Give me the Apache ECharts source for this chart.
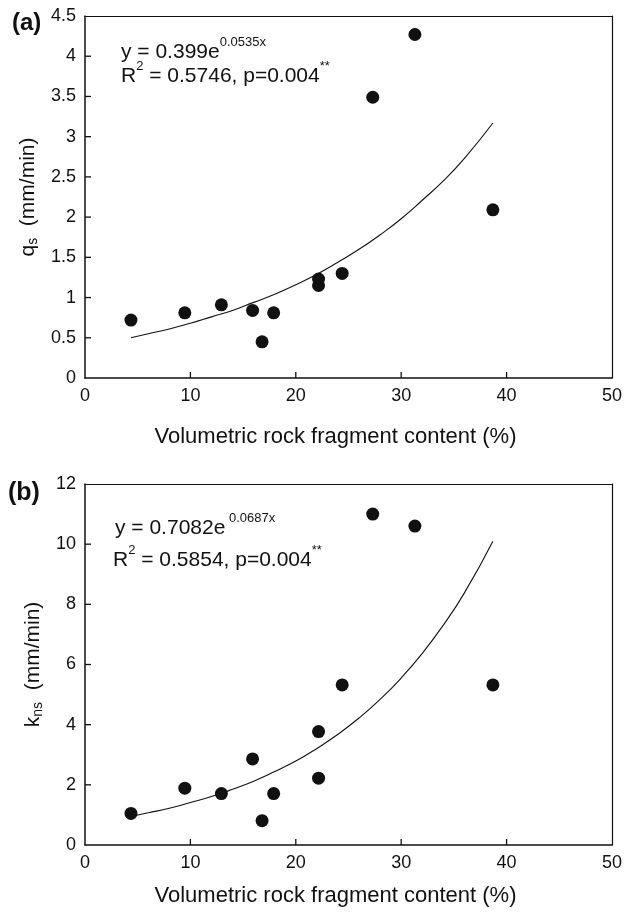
<!DOCTYPE html>
<html>
<head>
<meta charset="utf-8">
<script src="https://cdn.jsdelivr.net/npm/echarts@6/dist/echarts.min.js"></script>
<style>
  html, body { margin: 0; padding: 0; background: #fff; }
  #chart { width: 625px; height: 912px; }
</style>
</head>
<body>
<div id="chart"></div>
<script>
// 观测点：岩石碎屑体积含量 (%)
const rockContent = [4.36, 9.47, 12.94, 15.9, 16.8, 17.9, 22.16, 22.16, 24.4, 27.3, 31.3, 38.7]
// (a) qs (mm/min)
const qsValues = [0.72, 0.81, 0.91, 0.84, 0.45, 0.81, 1.23, 1.15, 1.30, 3.49, 4.27, 2.09]
// (b) kns (mm/min)，与 rockContent 的顺序一致
const knsValues = [1.05, 1.89, 1.71, 2.86, 0.81, 1.71, 3.77, 2.22, 5.32, 11.0, 10.6, 5.32]

// 拟合曲线（从图上读取的点）
const fitX = [4.36, 6, 8, 10, 12, 14, 16, 18, 20, 22, 24, 26, 28, 30, 32, 34, 36, 38.7]
const fitQs = [0.50, 0.55, 0.61, 0.68, 0.76, 0.84, 0.94, 1.04, 1.16, 1.29, 1.44, 1.60, 1.78, 1.98, 2.21, 2.45, 2.73, 3.17]
const fitKns = [0.95, 1.07, 1.22, 1.41, 1.61, 1.85, 2.12, 2.44, 2.79, 3.21, 3.68, 4.22, 4.84, 5.55, 6.37, 7.31, 8.38, 10.1]

// 坐标轴刻度
const xTicks = { min: 0, max: 50, interval: 10 }
const qsTicks = { min: 0, max: 4.5, interval: 0.5 }
const knsTicks = { min: 0, max: 12, interval: 2 }

// 朝内的刻度位置
const xTickValues = [10, 20, 30, 40]
const qsTickValues = [0.5, 1, 1.5, 2, 2.5, 3, 3.5, 4]
const knsTickValues = [2, 4, 6, 8, 10]

const FONT = '"Liberation Sans", Arial, Helvetica, sans-serif'
const INK = '#111'

const zip = (xs, ys) => xs.map((x, i) => [x, ys[i]])

const xAxisBase = (gridIndex, nameGap) => ({
  gridIndex,
  type: 'value',
  position: 'bottom',
  min: xTicks.min,
  max: xTicks.max,
  interval: xTicks.interval,
  name: 'Volumetric rock fragment content (%)',
  nameLocation: 'middle',
  nameGap,
  nameTextStyle: { fontFamily: FONT, fontSize: 22, color: INK, padding: [0, 26, 0, 0] },
  axisLine: { show: true, onZero: false, lineStyle: { color: INK, width: 1.5 } },
  axisTick: { show: false },
  axisLabel: { fontFamily: FONT, fontSize: 18, color: INK, margin: 9 },
  splitLine: { show: false }
})

const yAxisBase = (gridIndex, ticks, nameText) => ({
  gridIndex,
  type: 'value',
  position: 'left',
  min: ticks.min,
  max: ticks.max,
  interval: ticks.interval,
  name: nameText,
  nameLocation: 'middle',
  nameGap: 40,
  nameTextStyle: {
    fontFamily: FONT,
    fontSize: 21,
    color: INK,
    rich: {
      m: { fontFamily: FONT, fontSize: 21, color: INK, lineHeight: 22, verticalAlign: 'top' },
      sub: { fontFamily: FONT, fontSize: 14, color: INK, lineHeight: 14, verticalAlign: 'bottom' }
    }
  },
  axisLine: { show: true, onZero: false, lineStyle: { color: INK, width: 1.5 } },
  axisTick: { show: false },
  axisLabel: { fontFamily: FONT, fontSize: 18, color: INK, margin: 9 },
  splitLine: { show: false }
})

// 上边框和右边框：只画轴线
const frameAxis = (gridIndex, position, ticks) => ({
  gridIndex,
  type: 'value',
  position,
  min: ticks.min,
  max: ticks.max,
  axisLine: { show: true, onZero: false, lineStyle: { color: INK, width: 1.2 } },
  axisTick: { show: false },
  axisLabel: { show: false },
  splitLine: { show: false }
})

const scatterSeries = (idx, data) => ({
  type: 'scatter',
  xAxisIndex: idx,
  yAxisIndex: idx,
  data,
  symbol: 'circle',
  symbolSize: 13,
  itemStyle: { color: INK, opacity: 1 },
  z: 3
})

const fitSeries = (idx, data) => ({
  type: 'line',
  xAxisIndex: idx,
  yAxisIndex: idx,
  data,
  showSymbol: false,
  smooth: true,
  lineStyle: { color: INK, width: 1.1 },
  z: 2
})

// 朝内刻度线（用细矩形符号画在轴上）
const tickSeries = (idx, data, vertical) => ({
  type: 'scatter',
  xAxisIndex: idx,
  yAxisIndex: idx,
  data,
  clip: false,
  silent: true,
  symbol: 'rect',
  symbolSize: vertical ? [1.3, 6] : [6, 1.3],
  symbolOffset: vertical ? [0, -3] : [3, 0],
  itemStyle: { color: INK, opacity: 1 },
  z: 4
})

// 方程文本（上标用 rich）
const richEq = {
  n: { fontFamily: FONT, fontSize: 21, fill: INK, lineHeight: 27, verticalAlign: 'bottom' },
  s: { fontFamily: FONT, fontSize: 13, fill: INK, lineHeight: 14, verticalAlign: 'top' }
}

const eqText = (left, top, main, sup) => ({
  type: 'text',
  left,
  top,
  style: { text: `{n|${main}}{s|${sup}}`, rich: richEq }
})

const r2Text = (left, top, r2, p) => ({
  type: 'text',
  left,
  top,
  style: { text: `{n|R}{s|2}{n| = ${r2}, p=${p}}{s|**}`, rich: richEq }
})

const chart = echarts.init(document.getElementById('chart'))

chart.setOption({
  animation: false,
  backgroundColor: '#fff',
  grid: [
    { left: 85, top: 16, width: 528, height: 362 },
    { left: 85, top: 484, width: 528, height: 361 }
  ],
  xAxis: [
    xAxisBase(0, 48),
    xAxisBase(1, 40),
    frameAxis(0, 'top', xTicks),
    frameAxis(1, 'top', xTicks)
  ],
  yAxis: [
    yAxisBase(0, qsTicks, '{m|q}{sub|s}{m|  (mm/min)}'),
    yAxisBase(1, knsTicks, '{m|k}{sub|ns}{m|  (mm/min)}'),
    frameAxis(0, 'right', qsTicks),
    frameAxis(1, 'right', knsTicks)
  ],
  series: [
    fitSeries(0, zip(fitX, fitQs)),
    scatterSeries(0, zip(rockContent, qsValues)),
    fitSeries(1, zip(fitX, fitKns)),
    scatterSeries(1, zip(rockContent, knsValues)),
    tickSeries(0, xTickValues.map(v => [v, qsTicks.min]), true),
    tickSeries(0, qsTickValues.map(v => [xTicks.min, v]), false),
    tickSeries(1, xTickValues.map(v => [v, knsTicks.min]), true),
    tickSeries(1, knsTickValues.map(v => [xTicks.min, v]), false)
  ],
  graphic: [
    { type: 'text', left: 12, top: 11, style: { text: '(a)', fontFamily: FONT, fontSize: 24, fontWeight: 'bold', fill: INK } },
    { type: 'text', left: 8, top: 481, style: { text: '(b)', fontFamily: FONT, fontSize: 25, fontWeight: 'bold', fill: INK } },
    eqText(121, 36, 'y = 0.399e', '0.0535x'),
    r2Text(121, 60, '0.5746', '0.004'),
    eqText(115, 512, 'y = 0.7082e', ' 0.0687x'),
    r2Text(113, 544, '0.5854', '0.004')
  ]
})
</script>
</body>
</html>
